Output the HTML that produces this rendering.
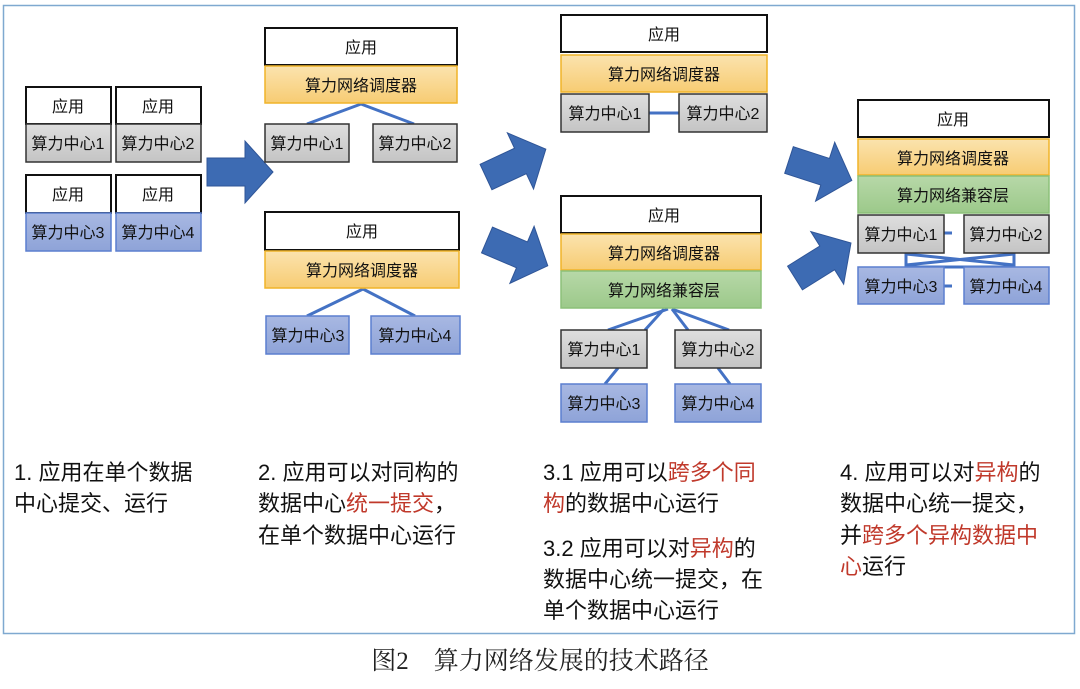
<!DOCTYPE html>
<html><head><meta charset="utf-8"><style>
body{margin:0;background:#fff;width:1080px;height:684px;overflow:hidden}
svg text{font-family:"Liberation Sans","Noto Sans CJK SC",sans-serif}
</style></head><body>
<svg width="1080" height="684" viewBox="0 0 1080 684" xmlns="http://www.w3.org/2000/svg">
<defs>
<linearGradient id="gy" x1="0" y1="0" x2="0" y2="1"><stop offset="0" stop-color="#fbe3ae"/><stop offset="1" stop-color="#f7cc73"/></linearGradient>
<linearGradient id="gg" x1="0" y1="0" x2="0" y2="1"><stop offset="0" stop-color="#b7d8a8"/><stop offset="1" stop-color="#9cc98a"/></linearGradient>
<linearGradient id="gr" x1="0" y1="0" x2="0" y2="1"><stop offset="0" stop-color="#dedede"/><stop offset="1" stop-color="#c4c4c4"/></linearGradient>
<linearGradient id="gb" x1="0" y1="0" x2="0" y2="1"><stop offset="0" stop-color="#a8b8e2"/><stop offset="1" stop-color="#8ea3d8"/></linearGradient>
<polygon id="arr" points="0,-14 38,-14 38,-31 66,0 38,31 38,14 0,14" fill="#3d6bb3" stroke="#2f5597" stroke-width="1"/>
</defs>
<rect x="3.5" y="5.5" width="1071" height="628" fill="none" stroke="#7fa9d0" stroke-width="1.5"/>
<g font-size="16" text-anchor="middle" fill="#111">
<!-- stage1 -->
<rect x="26" y="87" width="85" height="37" fill="#fff" stroke="#111" stroke-width="2"/><text x="68" y="112">应用</text>
<rect x="26" y="124" width="85" height="38" fill="url(#gr)" stroke="#333" stroke-width="1.5"/><text x="68" y="149">算力中心1</text>
<rect x="116" y="87" width="85" height="37" fill="#fff" stroke="#111" stroke-width="2"/><text x="158" y="112">应用</text>
<rect x="116" y="124" width="85" height="38" fill="url(#gr)" stroke="#333" stroke-width="1.5"/><text x="158" y="149">算力中心2</text>
<rect x="26" y="175" width="85" height="38" fill="#fff" stroke="#111" stroke-width="2"/><text x="68" y="200">应用</text>
<rect x="26" y="213" width="85" height="38" fill="url(#gb)" stroke="#5b7fcf" stroke-width="1.5"/><text x="68" y="238">算力中心3</text>
<rect x="116" y="175" width="85" height="38" fill="#fff" stroke="#111" stroke-width="2"/><text x="158" y="200">应用</text>
<rect x="116" y="213" width="85" height="38" fill="url(#gb)" stroke="#5b7fcf" stroke-width="1.5"/><text x="158" y="238">算力中心4</text>
<use href="#arr" transform="translate(207,172)"/>
<!-- stage2 top -->
<g stroke="#4472c4" stroke-width="3"><line x1="361" y1="104" x2="307" y2="124"/><line x1="361" y1="104" x2="414" y2="124"/></g>
<rect x="265" y="28" width="192" height="37" fill="#fff" stroke="#111" stroke-width="2"/><text x="361" y="53">应用</text>
<rect x="265" y="66" width="192" height="37" fill="url(#gy)" stroke="#f0b429" stroke-width="1.5"/><text x="361" y="91">算力网络调度器</text>
<rect x="265" y="124" width="84" height="38" fill="url(#gr)" stroke="#333" stroke-width="1.5"/><text x="307" y="149">算力中心1</text>
<rect x="373" y="124" width="84" height="38" fill="url(#gr)" stroke="#333" stroke-width="1.5"/><text x="415" y="149">算力中心2</text>
<!-- stage2 bottom -->
<g stroke="#4472c4" stroke-width="3"><line x1="363" y1="289" x2="307" y2="316"/><line x1="363" y1="289" x2="415" y2="316"/></g>
<rect x="265" y="212" width="194" height="38" fill="#fff" stroke="#111" stroke-width="2"/><text x="362" y="237">应用</text>
<rect x="265" y="251" width="194" height="37" fill="url(#gy)" stroke="#f0b429" stroke-width="1.5"/><text x="362" y="276">算力网络调度器</text>
<rect x="266" y="316" width="83" height="38" fill="url(#gb)" stroke="#5b7fcf" stroke-width="1.5"/><text x="308" y="341">算力中心3</text>
<rect x="371" y="316" width="89" height="38" fill="url(#gb)" stroke="#5b7fcf" stroke-width="1.5"/><text x="415" y="341">算力中心4</text>
<use href="#arr" transform="translate(486,177) rotate(-25)"/>
<use href="#arr" transform="translate(487,240) rotate(23)"/>
<!-- stage3 top -->
<line x1="649" y1="113" x2="679" y2="113" stroke="#4472c4" stroke-width="3"/>
<rect x="561" y="15" width="206" height="37" fill="#fff" stroke="#111" stroke-width="2"/><text x="664" y="40">应用</text>
<rect x="561" y="55" width="206" height="37" fill="url(#gy)" stroke="#f0b429" stroke-width="1.5"/><text x="664" y="80">算力网络调度器</text>
<rect x="561" y="94" width="88" height="38" fill="url(#gr)" stroke="#333" stroke-width="1.5"/><text x="605" y="119">算力中心1</text>
<rect x="679" y="94" width="88" height="38" fill="url(#gr)" stroke="#333" stroke-width="1.5"/><text x="723" y="119">算力中心2</text>
<!-- stage3 bottom -->
<g stroke="#4472c4" stroke-width="3"><line x1="668" y1="309" x2="608" y2="330"/><line x1="664" y1="309" x2="645" y2="330"/><line x1="672" y1="309" x2="688" y2="330"/><line x1="672" y1="309" x2="729" y2="330"/><line x1="618" y1="368" x2="605" y2="384"/><line x1="718" y1="368" x2="730" y2="384"/></g>
<rect x="561" y="196" width="200" height="37" fill="#fff" stroke="#111" stroke-width="2"/><text x="664" y="221">应用</text>
<rect x="561" y="234" width="200" height="36" fill="url(#gy)" stroke="#f0b429" stroke-width="1.5"/><text x="664" y="259">算力网络调度器</text>
<rect x="561" y="271" width="200" height="37" fill="url(#gg)" stroke="#8cc079" stroke-width="1.5"/><text x="664" y="296">算力网络兼容层</text>
<rect x="561" y="330" width="86" height="38" fill="url(#gr)" stroke="#333" stroke-width="1.5"/><text x="604" y="355">算力中心1</text>
<rect x="675" y="330" width="86" height="38" fill="url(#gr)" stroke="#333" stroke-width="1.5"/><text x="718" y="355">算力中心2</text>
<rect x="561" y="384" width="86" height="38" fill="url(#gb)" stroke="#5b7fcf" stroke-width="1.5"/><text x="604" y="409">算力中心3</text>
<rect x="675" y="384" width="86" height="38" fill="url(#gb)" stroke="#5b7fcf" stroke-width="1.5"/><text x="718" y="409">算力中心4</text>
<use href="#arr" transform="translate(789,160) rotate(18)"/>
<use href="#arr" transform="translate(795,278) rotate(-32)"/>
<!-- stage4 -->
<g stroke="#4472c4" stroke-width="3" fill="none"><line x1="933" y1="233" x2="952" y2="233"/><line x1="933" y1="286" x2="952" y2="286"/><polyline points="906,252 906,267 1014,267 1014,252"/><line x1="906" y1="265" x2="1014" y2="254"/><line x1="906" y1="254" x2="1014" y2="265"/></g>
<rect x="858" y="100" width="191" height="37" fill="#fff" stroke="#111" stroke-width="2"/><text x="953" y="125">应用</text>
<rect x="858" y="139" width="191" height="36" fill="url(#gy)" stroke="#f0b429" stroke-width="1.5"/><text x="953" y="164">算力网络调度器</text>
<rect x="858" y="176" width="191" height="37" fill="url(#gg)" stroke="#8cc079" stroke-width="1.5"/><text x="953" y="201">算力网络兼容层</text>
<rect x="858" y="215" width="86" height="38" fill="url(#gr)" stroke="#333" stroke-width="1.5"/><text x="901" y="240">算力中心1</text>
<rect x="964" y="215" width="85" height="38" fill="url(#gr)" stroke="#333" stroke-width="1.5"/><text x="1006" y="240">算力中心2</text>
<rect x="858" y="267" width="86" height="37" fill="url(#gb)" stroke="#5b7fcf" stroke-width="1.5"/><text x="901" y="292">算力中心3</text>
<rect x="964" y="267" width="85" height="37" fill="url(#gb)" stroke="#5b7fcf" stroke-width="1.5"/><text x="1006" y="292">算力中心4</text>
</g>
<g font-size="22" fill="#111">
<text x="14" y="480">1. 应用在单个数据</text>
<text x="14" y="511">中心提交、运行</text>
<text x="258" y="480">2. 应用可以对同构的</text>
<text x="258" y="511">数据中心<tspan fill="#c0392b">统一提交</tspan>，</text>
<text x="258" y="543">在单个数据中心运行</text>
<text x="543" y="480">3.1 应用可以<tspan fill="#c0392b">跨多个同</tspan></text>
<text x="543" y="511"><tspan fill="#c0392b">构</tspan>的数据中心运行</text>
<text x="543" y="556">3.2  应用可以对<tspan fill="#c0392b">异构</tspan>的</text>
<text x="543" y="587">数据中心统一提交，在</text>
<text x="543" y="618">单个数据中心运行</text>
<text x="840" y="480">4. 应用可以对<tspan fill="#c0392b">异构</tspan>的</text>
<text x="840" y="511">数据中心统一提交，</text>
<text x="840" y="543">并<tspan fill="#c0392b">跨多个异构数据中</tspan></text>
<text x="840" y="574"><tspan fill="#c0392b">心</tspan>运行</text>
</g>
<text x="540" y="669" text-anchor="middle" font-size="25" fill="#222" style="font-family:'Liberation Serif','Noto Serif CJK SC',serif">图2　算力网络发展的技术路径</text>
</svg>
</body></html>
